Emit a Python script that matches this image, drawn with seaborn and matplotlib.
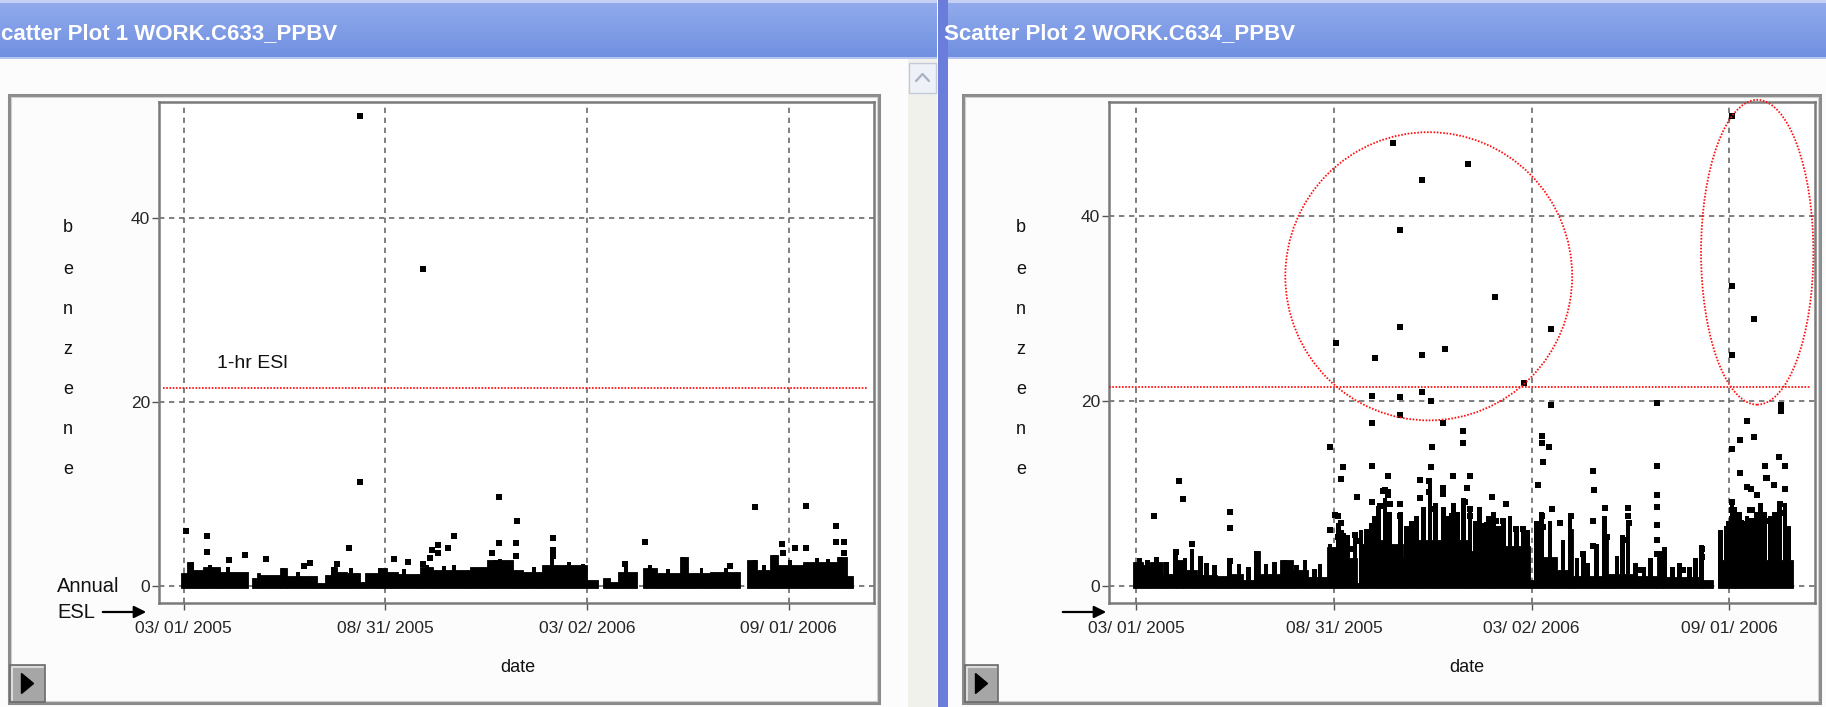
import numpy as np
import pandas as pd
import matplotlib
matplotlib.use("Agg")
import matplotlib.pyplot as plt
import matplotlib.dates as mdates
import matplotlib.colors as mcolors
from matplotlib.patches import Rectangle, Ellipse, Polygon, FancyArrowPatch
import seaborn as sns

# ---------------- data ----------------
START = "2005-03-01"                     # day 0 of the day offsets below
tick_dates = ["2005-03-01", "2005-08-31", "2006-03-02", "2006-09-01"]
tick_labels = ["03/ 01/ 2005", "08/ 31/ 2005", "03/ 02/ 2006", "09/ 01/ 2006"]
y_ticks = [0, 20, 40]
esl_1hr = 21.5

titles = ["catter Plot 1 WORK.C633_PPBV", "Scatter Plot 2 WORK.C634_PPBV"]

# Plot 1 (C633): isolated points (days after START, ppbv)
p1_days = [160, 217, 160, 2, 21, 21, 41, 56, 75, 109, 115, 139, 150, 191, 204, 217,
           225, 231, 231, 224, 240, 245, 286, 303, 302, 302, 286, 280, 335, 335, 335,
           419, 401, 496, 519, 565, 592, 592, 599, 599, 543, 555, 565, 544]
p1_vals = [51.0, 34.4, 11.3, 5.9, 5.4, 3.7, 2.8, 3.3, 2.9, 2.1, 2.5, 2.4, 4.1, 2.9, 2.6, 2.4,
           3.9, 4.4, 3.6, 3.0, 4.1, 5.4, 9.6, 7.0, 4.6, 3.2, 4.6, 3.5, 5.2, 3.9, 3.2,
           4.8, 2.4, 2.1, 8.5, 8.7, 6.5, 4.8, 4.8, 3.5, 4.5, 4.1, 4.1, 3.5]
# Plot 1: dense low-level band (upper envelope between successive day edges)
p1_band_edges = [-2, 2.7, 8.7, 17.8, 33, 58.6, 61.7, 66.3, 69.3, 87.4, 93.5, 120.7, 128.3,
                 134.3, 138.9, 148, 160, 164.6, 176.7, 184.3, 194.8, 214.5, 226.6, 259.9,
                 275, 299.2, 308.3, 325, 365.8, 376.3, 380.9, 387, 394.5, 411.2, 417.2,
                 429.3, 450.5, 458, 477.7, 505, 511, 520, 532.2, 539.7, 562.4, 592.7,
                 601.8, 607.8]
p1_band_tops = [1.35, 2.6, 1.7, 2.0, 1.5, 0, 0.8, 1.35, 1.2, 1.9, 1.0, 0.3, 1.2, 2.0, 1.5,
                1.35, 0.45, 1.35, 1.9, 1.5, 1.3, 2.0, 1.7, 2.0, 2.8, 1.7, 1.45, 2.3, 0.6, 0,
                0.8, 0.4, 1.5, 0, 1.9, 1.35, 3.1, 1.35, 1.5, 0, 2.8, 1.7, 3.3, 2.3, 2.6, 3.1,
                1.0]
# Plot 1: short columns of stacked points poking above the band
p1_col_days = [7.2, 24, 40, 90.4, 104, 135.8, 152, 178.2, 200, 220.5, 236, 245, 282.5, 287,
               318, 334.6, 350, 362.7, 401.2, 423, 440, 453.5, 470, 492, 518.6, 527, 536.7,
               550, 575, 585, 595.7]
p1_col_tops = [2.6, 2.3, 2.0, 1.9, 1.5, 2.0, 1.9, 1.9, 1.8, 2.3, 2.1, 2.3, 2.8, 2.9,
               2.0, 3.0, 2.6, 2.4, 2.3, 2.2, 1.8, 3.1, 1.9, 1.9, 2.8, 2.3, 3.3,
               2.8, 3.0, 2.9, 3.1]

# Plot 2 (C634): isolated points
p2_days = [237.3, 307.3, 264.2, 244.0, 332.3, 383.9, 244.0, 286.0, 264.2, 184.6, 221.2, 358.9,
           264.2, 244.0, 272.5, 218.0, 244.0, 218.0, 284.3, 383.9, 302.7, 302.7, 273.5, 179.3,
           191.0, 189.6, 218.0, 233.0, 204.6, 218.0, 375.8, 375.8, 382.3, 376.8, 482.3, 482.3,
           422.5, 424.0, 434.1, 455.4, 455.4,
           39.8, 43.2, 16.7, 86.4, 86.4, 51.6, 36.5, 86.4, 179.3,
           551.7, 551.7, 572.0, 551.7, 596.8, 596.8, 565.3, 558.8, 572.0, 551.7, 595.2, 558.8,
           600.5, 582.3, 583.8, 565.0, 569.0, 574.3, 590.6, 600.5, 551.7, 551.7, 558.8, 568.5,
           568.5,
           262.6, 271.3, 271.3, 272.5, 292.9, 309.0, 305.8, 284.2, 284.2, 304.2, 329.0, 342.2,
           229.9, 233.3, 234.9, 244.2, 244.2, 262.6, 272.5, 291.9, 308.9, 308.9, 324.3, 332.9,
           339.7, 351.5, 357.7, 375.8, 376.1, 384.4, 392.1, 402.4, 372.1, 422.5, 422.5, 413.9,
           435.5, 456.4, 454.0, 482.3, 482.3, 482.3, 482.3, 482.3, 467.2, 506.4, 523.4, 523.4,
           551.5, 551.5, 560.2, 570.4, 570.4, 583.3, 595.6, 598.7, 565.0, 582.0, 594.0,
           187.0, 189.5, 189.5, 202.4, 204.0, 213.2, 216.3, 224.0, 225.5, 228.6, 233.3, 183.9,
           187.0, 197.8]
p2_vals = [47.9, 45.7, 43.9, 38.5, 31.3, 27.8, 28.0, 25.6, 25.0, 26.3, 24.6, 21.9,
           21.0, 20.4, 20.0, 20.5, 18.5, 17.6, 17.6, 19.6, 16.8, 15.5, 15.0, 15.0,
           12.8, 11.5, 13.0, 11.9, 9.6, 9.1, 16.2, 15.4, 15.0, 13.4, 19.8, 13.0,
           12.4, 10.4, 8.4, 8.4, 7.6,
           11.3, 9.4, 7.6, 8.0, 6.3, 4.5, 3.7, 2.7, 6.0,
           50.8, 32.4, 28.9, 25.0, 19.6, 18.9, 17.8, 15.8, 16.1, 14.8, 13.9, 12.2,
           13.0, 13.0, 11.7, 10.7, 10.5, 9.8, 10.9, 10.5, 9.1, 8.2, 6.8, 8.2,
           7.0,
           11.4, 11.3, 10.1, 12.8, 11.9, 11.9, 10.6, 10.6, 9.9, 9.1, 9.6, 8.9,
           10.4, 9.8, 8.9, 8.9, 7.6, 9.5, 8.3, 7.6, 8.3, 7.5, 6.6, 7.0,
           7.0, 6.1, 6.1, 7.5, 6.4, 8.3, 6.8, 7.5, 10.9, 7.0, 4.3, 3.4,
           5.3, 6.8, 4.9, 9.8, 8.5, 6.6, 4.9, 3.4, 1.7, 1.7, 4.0, 3.1,
           7.2, 6.1, 6.8, 8.2, 7.0, 11.7, 8.9, 7.9, 5.3, 7.0, 5.7,
           7.5, 6.8, 5.7, 5.5, 4.8, 4.4, 5.7, 7.2, 8.6, 10.3, 10.1, 7.7,
           5.3, 4.0]
p2_band_edges = [-2.8, 6.3, 12.4, 25, 37.4, 43.6, 56, 74.4, 86.7, 99, 110, 114.5, 133, 145.3,
                 159.2, 176.2, 188.5, 204, 207, 222.5, 234.8, 247.2, 259.5, 278, 308.9, 327.4,
                 364.4, 370.6, 389.1, 401.5, 404.5, 432.3, 437, 463.2, 481.7, 487.9, 521.8,
                 524.9, 534.1, 538.7, 555.8, 580.4, 608.2]
p2_band_tops = [2.6, 2.2, 2.6, 1.3, 2.8, 1.7, 1.2, 1.0, 1.3, 0.6, 3.8, 1.3, 2.8, 1.7, 0.9,
                4.2, 3.0, 0.3, 4.5, 5.0, 4.5, 3.1, 5.0, 5.0, 3.8, 4.3, 0.6, 3.1, 1.7, 6.1,
                1.0, 5.3, 1.3, 1.0, 3.8, 0.9, 4.2, 0.6, 0, 2.8, 3.4, 2.8]
p2_col_days = [18.9, 36.5, 51.6, 59.6, 86.4, 111.4, 137.6, 156.1, 179.3, 187.0, 191.6, 202.4,
               213.2, 217.8, 224.0, 230.2, 244.2, 259.5, 271.9, 284.3, 293.5, 302.7, 308.9,
               321.2, 330.5, 339.7, 352.1, 358.3, 370.6, 375.2, 383.0, 401.5, 413.8, 433.6,
               455.2, 489.1, 523.0, 546.2, 551.5, 558.8, 565.3, 569.6, 574.3, 582.0, 586.6,
               590.6, 595.2, 600.5,
               3, 10, 28, 45, 65, 72, 95, 104, 120, 128, 148, 165, 170,
               196, 208, 220, 234, 250, 255, 266, 277, 289, 297, 314, 318, 326, 335, 346, 362,
               395, 408, 418, 426, 445, 450, 462, 470, 476, 496, 503, 512, 518,
               541, 548, 554, 562, 578, 593, 604]
p2_col_tops = [3.1, 3.8, 4.0, 3.2, 2.8, 3.8, 2.8, 2.8, 4.5, 6.8, 5.7, 5.7,
               6.1, 6.8, 8.6, 9.5, 8.0, 7.5, 11.5, 8.5, 9.0, 9.5, 8.5,
               6.8, 8.0, 7.1, 6.5, 6.5, 7.0, 8.0, 7.0, 7.9, 3.4, 7.5,
               7.0, 4.2, 4.4, 6.5, 9.1, 8.0, 7.5, 7.0, 8.0, 8.0, 7.5,
               8.0, 9.0, 9.0,
               3.0, 2.8, 2.6, 3.0, 2.5, 2.2, 2.3, 2.0, 2.4, 2.6, 2.2, 1.8, 2.4,
               5.5, 6.0, 7.5, 8.0, 6.5, 7.0, 8.5, 9.0, 7.5, 8.0, 7.0, 8.5, 7.5, 6.5, 7.5, 6.0,
               5.0, 3.0, 2.5, 4.5, 3.2, 5.5, 2.5, 2.0, 3.0, 2.0, 2.5, 2.0, 3.0,
               6.0, 7.0, 8.5, 7.0, 9.0, 8.0, 6.5]
# red highlight ellipses on plot 2: centre day, centre value, width (days), height (ppbv)
p2_ell_day = [270.7, 574.8]
p2_ell_val = [33.5, 36.1]
p2_ell_w = [265.6, 104.0]
p2_ell_h = [31.2, 33.0]

# ---------------- figure ----------------
sns.set_theme(style="white")
plt.rcParams["font.family"] = ["Liberation Sans", "DejaVu Sans"]

W, H = 1826, 707
fig = plt.figure(figsize=(W / 100, H / 100), dpi=100)
fig.patch.set_facecolor("#fcfcfc")
bg = fig.add_axes([0, 0, 1, 1], zorder=0)
bg.set_xlim(0, W)
bg.set_ylim(H, 0)
bg.axis("off")


def px_axes(l, t, r, b):
    return fig.add_axes([l / W, 1 - b / H, (r - l) / W, (b - t) / H], zorder=2)


def title_bar(x0, x1, text, tx):
    top = np.array(mcolors.to_rgb("#92abec"))
    bot = np.array(mcolors.to_rgb("#6f8fe0"))
    for i in range(58):
        f = i / 57.0
        bg.add_patch(Rectangle((x0, i), x1 - x0, 1.1, color=top * (1 - f) + bot * f, lw=0))
    bg.add_patch(Rectangle((x0, 0), x1 - x0, 3, color="#c6cff4", lw=0))
    bg.add_patch(Rectangle((x0, 57), x1 - x0, 2, color="#b6c5f2", lw=0))
    bg.text(tx, 34, text, color="white", fontsize=16, va="center", ha="left",
            family=["Liberation Sans Narrow", "DejaVu Sans Condensed", "Liberation Sans"],
            fontweight="bold")


title_bar(0, 937, titles[0], 1)
title_bar(946, W, titles[1], 944)
# right window border strip
bg.add_patch(Rectangle((938, 0), 10, H, color="#6b7dda", lw=0))
# left window scrollbar
bg.add_patch(Rectangle((908, 59), 29, H - 59, color="#f1f1ec", lw=0))
bg.add_patch(Rectangle((909, 63), 27, 30, facecolor="#eef1f7", edgecolor="#c5cad8", lw=1))
bg.plot([916, 922.5, 929], [81, 74, 81], color="#a8b0c4", lw=1.6)

base = mdates.date2num(pd.Timestamp(START))


def dnum(days):
    return base + np.asarray(days, dtype=float)


tick_nums = mdates.date2num(pd.to_datetime(tick_dates))


def panel(frame, axbox, xlim_days, ylim, days, vals, edges, tops, cdays, ctops, cwidth,
          ylab_x, arrow, date_x, button, red_span, ell=None):
    fx0, fy0, fx1, fy1 = frame
    bg.add_patch(Rectangle((fx0, fy0), fx1 - fx0, fy1 - fy0, fill=False,
                           edgecolor="#8c8c8c", lw=2.2))
    bg.add_patch(Rectangle((fx0 + 2, fy0 + 2), fx1 - fx0 - 4, fy1 - fy0 - 4, fill=False,
                           edgecolor="#d0d0d0", lw=0.8))
    ax = px_axes(*axbox)
    ax.set_facecolor("white")
    ax.set_axisbelow(True)
    ax.grid(True, linestyle=(0, (3.2, 2.8)), color="#6a6a6a", linewidth=1.2)
    e = np.asarray(edges, float)
    t = np.asarray(tops, float)
    keep = t > 0
    ax.bar(dnum(e[:-1][keep]), t[keep] + 0.3, bottom=-0.3, width=np.diff(e)[keep],
           align="edge", color="black", edgecolor="black", linewidth=0.6, zorder=3)
    ax.bar(dnum(cdays), np.asarray(ctops) + 0.3, bottom=-0.3, width=cwidth,
           align="center", color="black", linewidth=0, zorder=3)
    df = pd.DataFrame({"date": dnum(days), "benzene": vals})
    sns.scatterplot(data=df, x="date", y="benzene", marker="s", s=20, color="black",
                    linewidth=0, ax=ax, legend=False, zorder=4)
    ax.axhline(esl_1hr, xmin=red_span[0], xmax=red_span[1], color="#ff1010",
               linestyle=(0, (0.9, 0.9)), linewidth=1.3, zorder=5)
    if ell is not None:
        for cd, cv, w, h in zip(*ell):
            ax.add_patch(Ellipse((dnum(cd), cv), w, h, fill=False, edgecolor="#ff1010",
                                 linestyle=(0, (0.9, 0.9)), linewidth=1.3, zorder=5,
                                 clip_on=False))
    ax.set_xlim(dnum(xlim_days[0]), dnum(xlim_days[1]))
    ax.set_ylim(*ylim)
    ax.set_xticks(tick_nums)
    ax.set_xticklabels(tick_labels)
    ax.set_yticks(y_ticks)
    ax.set_yticklabels([str(v) for v in y_ticks])
    ax.set_xlabel("")
    ax.set_ylabel("")
    ax.tick_params(axis="x", direction="out", length=5, width=1, color="#555555",
                   labelsize=12.5, pad=8, bottom=True)
    ax.tick_params(axis="y", direction="out", length=5, width=1, color="#555555",
                   labelsize=12.5, pad=1.5, left=True)
    for s in ax.spines.values():
        s.set_color("#7a7a7a")
        s.set_linewidth(1.8)
    # vertical letters of the y label
    for letter, y in zip("benzene", [228, 269, 309, 349, 389, 430, 470]):
        bg.text(ylab_x, y, letter, fontsize=13, ha="center", va="center", color="#111111")
    bg.text(date_x, 668, "date", fontsize=13, ha="center", va="center", color="#111111")
    bg.add_patch(FancyArrowPatch((arrow[0], 612), (arrow[1], 612), arrowstyle="-|>",
                                 mutation_scale=18, color="black", lw=1.6))
    bx0, by0, bx1, by1 = button
    bg.add_patch(Rectangle((bx0, by0), bx1 - bx0, by1 - by0, facecolor="#a6a6a6",
                           edgecolor="#6a6a6a", lw=1.2))
    bg.plot([bx0 + 1.5, bx0 + 1.5, bx1 - 2], [by1 - 2, by0 + 1.5, by0 + 1.5],
            color="#dcdcdc", lw=1.5)
    cx = (bx0 + bx1) / 2
    cy = (by0 + by1) / 2
    bg.add_patch(Polygon([(cx - 6, cy - 10), (cx - 6, cy + 10), (cx + 6, cy)],
                         closed=True, color="black"))
    return ax


ax1 = panel(frame=(9, 95, 879, 703), axbox=(159, 101.7, 874, 603),
            xlim_days=(-22.4, 626.6), ylim=(-1.88, 52.6),
            days=p1_days, vals=p1_vals, edges=p1_band_edges, tops=p1_band_tops,
            cdays=p1_col_days, ctops=p1_col_tops, cwidth=3.5, ylab_x=68, arrow=(100, 149),
            date_x=518, button=(10, 665, 45, 702), red_span=(0.006, 0.99))
ax1.text(dnum(30.2), 24.2, "1-hr ESl", fontsize=14, ha="left", va="center",
         color="#111111", zorder=6)
bg.text(57, 587, "Annual", fontsize=14.5, ha="left", va="center", color="#111111")
bg.text(57, 613, "ESL", fontsize=14.5, ha="left", va="center", color="#111111")

ax2 = panel(frame=(963, 95, 1820, 703), axbox=(1109, 101.7, 1815, 603),
            xlim_days=(-25.3, 628.3), ylim=(-1.87, 52.4),
            days=p2_days, vals=p2_vals, edges=p2_band_edges, tops=p2_band_tops,
            cdays=p2_col_days, ctops=p2_col_tops, cwidth=4.5, ylab_x=1021,
            arrow=(1060, 1109), date_x=1467, button=(965, 665, 998, 702),
            red_span=(0.0, 0.995), ell=(p2_ell_day, p2_ell_val, p2_ell_w, p2_ell_h))

fig.savefig("out.png", dpi=100, facecolor=fig.get_facecolor())
